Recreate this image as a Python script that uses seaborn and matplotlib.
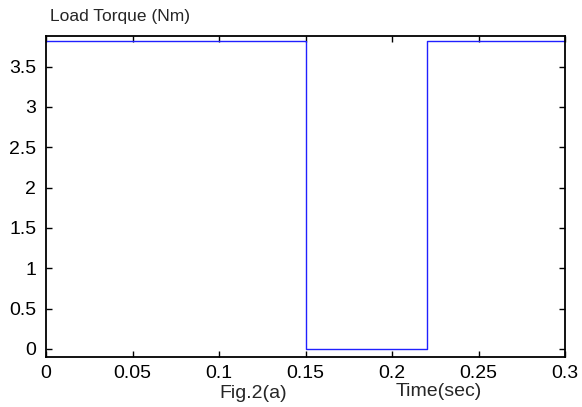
import matplotlib
matplotlib.use("Agg")
import matplotlib.pyplot as plt
import seaborn as sns
import pandas as pd

time_s = [0.0, 0.15, 0.22, 0.3]
torque_nm = [3.82, 0.0, 3.82, 3.82]
xticks = [0, 0.05, 0.1, 0.15, 0.2, 0.25, 0.3]
xticklabels = ["0", "0.05", "0.1", "0.15", "0.2", "0.25", "0.3"]
yticks = [0, 0.5, 1, 1.5, 2, 2.5, 3, 3.5]
yticklabels = ["0", "0.5", "1", "1.5", "2", "2.5", "3", "3.5"]

sns.set_style("ticks")
plt.rcParams["font.family"] = ["Liberation Sans", "DejaVu Sans"]

df = pd.DataFrame({"t": time_s, "T": torque_nm})

fig = plt.figure(figsize=(5.82, 4.07), dpi=100)
ax = fig.add_axes([46/582, 1-357/407, (565-46)/582, (357-36)/407])
sns.lineplot(data=df, x="t", y="T", ax=ax, estimator=None, sort=False,
             drawstyle="steps-post", color="#2020ff", linewidth=1.0)
ax.set_xlim(0, 0.3)
ax.set_ylim(-0.1, 3.88)
ax.set_xticks(xticks)
ax.set_xticklabels(xticklabels)
ax.set_yticks(yticks)
ax.set_yticklabels(yticklabels)
ax.tick_params(direction="in", length=4, width=1, top=True, right=True,
               labelsize=14, colors="black")
ax.tick_params(axis="x", pad=6)
ax.tick_params(axis="y", pad=7)
for s in ax.spines.values():
    s.set_visible(True)
    s.set_linewidth(1.3)
    s.set_color("black")
ax.set_xlabel("")
ax.set_ylabel("")
fig.text(50/582, 1-17/407, "Load Torque (Nm)", fontsize=12.5, va="center", ha="left")
fig.text(439/582, 1-392/407, "Time(sec)", fontsize=14, va="center", ha="center")
fig.text(253/582, 1-393/407, "Fig.2(a)", fontsize=14, va="center", ha="center")
fig.savefig("out.png", dpi=100)
